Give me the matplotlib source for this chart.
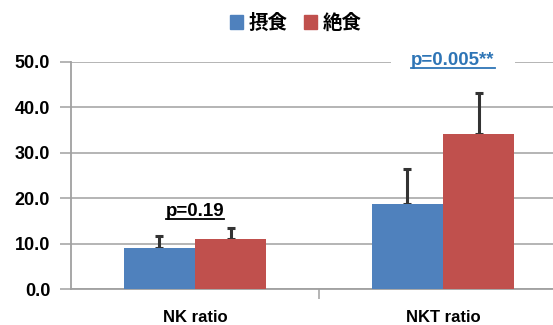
import matplotlib
matplotlib.use("Agg")
import matplotlib.pyplot as plt
import matplotlib.patches as patches
from matplotlib.lines import Line2D
from matplotlib.transforms import IdentityTransform
import numpy as np

categories = ["NK ratio", "NKT ratio"]
series_names = ["摂食", "絶食"]
fed_means = [9.1, 18.7]
fed_err = [2.6, 7.7]
fasted_means = [11.1, 34.1]
fasted_err = [2.3, 9.1]
p_labels = ["p=0.19", "p=0.005**"]
yticks = [0, 10, 20, 30, 40, 50]

BLUE = "#4F81BD"
RED = "#C0504D"
GRID = "#A0A0A0"

plt.rcParams['font.family'] = ['Liberation Sans', 'DejaVu Sans']

W, H = 553, 325
fig = plt.figure(figsize=(W / 100, H / 100), dpi=100)
# plot area runs past the right edge of the figure, as in the original sheet
left_px, bottom_px, top_px, cat_px = 71, 289.3, 61.7, 248
ax = fig.add_axes([left_px / W, (H - bottom_px) / H, 1 - left_px / W, (bottom_px - top_px) / H])
ax.set_xlim(-0.5, -0.5 + (W - left_px) / cat_px)
ax.set_ylim(0, 50)

x = np.arange(len(categories))
bw = 0.287
ekw = dict(ecolor="#333333", elinewidth=2.2, capsize=3, capthick=2.2, zorder=2)
ax.bar(x - bw / 2, fed_means, bw, color=BLUE, yerr=[[0, 0], fed_err], error_kw=ekw, zorder=3)
ax.bar(x + bw / 2, fasted_means, bw, color=RED, yerr=[[0, 0], fasted_err], error_kw=ekw, zorder=3)

ax.set_yticks(yticks)
ax.set_yticklabels([f"{v:.1f}" for v in yticks], fontsize=13, fontweight="bold")
ax.yaxis.grid(True, color=GRID, linewidth=1.1)
ax.set_axisbelow(True)
ax.tick_params(axis="y", length=8, width=1.1, color=GRID, pad=7)

ax.set_xticks([0.5])
ax.set_xticklabels([])
ax.set_xticks(x, minor=True)
ax.set_xticklabels(categories, minor=True, fontsize=12, fontweight="bold")
ax.tick_params(axis="x", which="major", length=7, width=1.1, color=GRID)
ax.tick_params(axis="x", which="minor", length=0, pad=15)

for s in ["top", "right"]:
    ax.spines[s].set_visible(False)
for s in ["left", "bottom"]:
    ax.spines[s].set_color(GRID)
    ax.spines[s].set_linewidth(1.3)

# p-value labels
p_pos = [(0.0, 17.0), (1.04, 50.3)]
p_colors = ["black", "#2E75B6"]
p_texts = []
for (px, py), lab, c in zip(p_pos, p_labels, p_colors):
    t = ax.text(px, py, lab, ha="center", va="center", fontsize=13.5, fontweight="bold",
                color=c, zorder=4, clip_on=False)
    p_texts.append(t)

handles = [patches.Patch(color=BLUE), patches.Patch(color=RED)]
fig.legend(handles, series_names, loc="center", bbox_to_anchor=(0.535, 0.929), ncol=2,
           frameon=False, prop=dict(family=["Noto Sans CJK JP"], weight="bold", size=14),
           handlelength=0.7, handleheight=0.7, handletextpad=0.3, columnspacing=0.8)

# white box behind each label (breaks the gridlines) plus an underline
fig.canvas.draw()
r = fig.canvas.get_renderer()
for t in p_texts:
    bb = t.get_window_extent(r)
    box = patches.Rectangle((bb.x0 - 20, bb.y0 - 4), bb.width + 40, bb.height + 8,
                            transform=IdentityTransform(), fc="white", ec="none",
                            zorder=1, clip_on=False)
    ax.add_patch(box)
    y = (bb.y0 + 1) / H
    fig.add_artist(Line2D([bb.x0 / W, bb.x1 / W], [y, y], color=t.get_color(), linewidth=1.3))

fig.savefig("out.png", dpi=100)
